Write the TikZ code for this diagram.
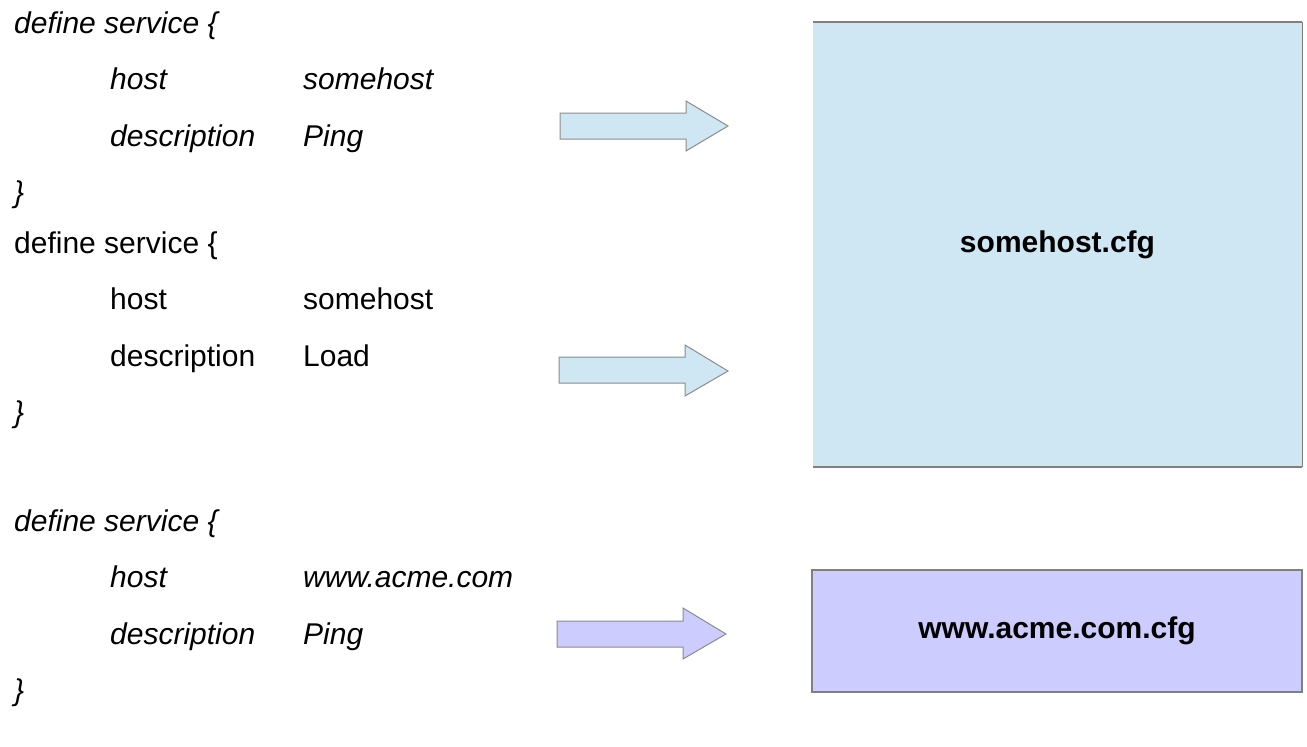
\documentclass[tikz,border=0pt]{standalone}
\usepackage{fontspec}
\setmainfont{Liberation Sans}
\definecolor{hostblue}{RGB}{207,230,243}
\definecolor{acmeviolet}{RGB}{204,204,255}
\definecolor{rimgray}{RGB}{128,128,128}
\definecolor{arrowgray}{RGB}{140,140,140}
\begin{document}
\begin{tikzpicture}[x=1pt, y=-1pt,
  every node/.style={font=\fontsize{30}{36}\selectfont, inner sep=0pt, anchor=base west},
  srcital/.style={font=\fontsize{30}{36}\selectfont\itshape},
  fatarrow/.style={draw=arrowgray, line width=1pt, line join=miter},
  cfgbox/.style={anchor=center, font=\fontsize{30}{36}\selectfont\bfseries}]
\useasboundingbox (0,0) rectangle (1307,747);
% first service, italic
\node[srcital] (def1) at (14,33) {define service \{};
\node[srcital] (host1) at (110,89.5) {host};
\node[srcital] (hostv1) at (303,89.5) {somehost};
\node[srcital] (desc1) at (110,146) {description};
\node[srcital] (descv1) at (303,146) {Ping};
\node[srcital] (close1) at (14,202.5) {\}};
% second service, upright
\node (def2) at (14,253) {define service \{};
\node (host2) at (110,309.5) {host};
\node (hostv2) at (303,309.5) {somehost};
\node (desc2) at (110,366) {description};
\node (descv2) at (303,366) {Load};
\node[srcital] (close2) at (14,422.5) {\}};
% third service, italic
\node[srcital] (def3) at (14,531) {define service \{};
\node[srcital] (host3) at (110,587.5) {host};
\node[srcital] (hostv3) at (303,587.5) {www.acme.com};
\node[srcital] (desc3) at (110,644) {description};
\node[srcital] (descv3) at (303,644) {Ping};
\node[srcital] (close3) at (14,700.5) {\}};
% block arrows
\draw[fatarrow, fill=hostblue] (560,113) -- (686,113) -- (686,101) -- (728,126) -- (686,151) -- (686,139) -- (560,139) -- cycle;
\draw[fatarrow, fill=hostblue] (559,357) -- (685,357) -- (685,345) -- (728,371) -- (685,396) -- (685,383) -- (559,383) -- cycle;
\draw[fatarrow, fill=acmeviolet] (557,621) -- (683,621) -- (683,608) -- (726,634) -- (683,659) -- (683,647) -- (557,647) -- cycle;
% output files
\node[cfgbox, fill=hostblue, minimum width=489pt, minimum height=445pt] (hostcfg) at (1057.5,244.5) {somehost.cfg};
\draw[rimgray, line width=2pt] (hostcfg.north west) -- (hostcfg.north east);
\draw[rimgray, line width=2pt] (hostcfg.south west) -- (hostcfg.south east);
\draw[rimgray, line width=1pt] (hostcfg.north east) -- (hostcfg.south east);
\node[cfgbox, fill=acmeviolet, draw=rimgray, line width=2pt, minimum width=490pt, minimum height=122pt] (acmecfg) at (1057,631) {www.acme.com.cfg};
\end{tikzpicture}
\end{document}
